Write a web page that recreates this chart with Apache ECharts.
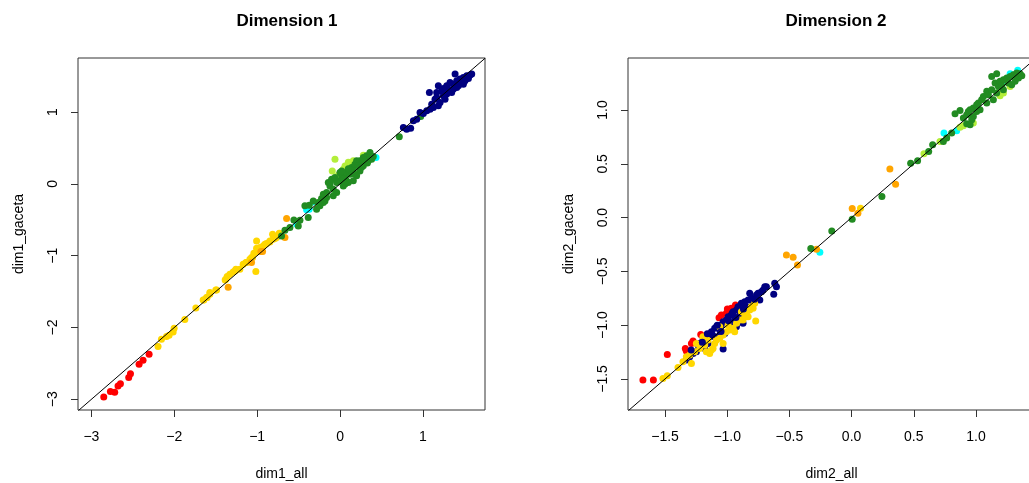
<!DOCTYPE html>
<html><head><meta charset="utf-8">
<script src="https://cdn.jsdelivr.net/npm/echarts@6/dist/echarts.min.js"></script>
<style>html,body{margin:0;padding:0;background:#fff}#c{width:1029px;height:483px}</style>
</head><body><div id="c"></div>
<script>
// ---------- Tick labels ----------
const dim1Ticks = [-3, -2, -1, 0, 1];
const dim2Ticks = [-1.5, -1.0, -0.5, 0.0, 0.5, 1.0];
const dim1Range = {xmin: -3.162, xmax: 1.749, ymin: -3.149, ymax: 1.753};
const dim2Range = {xmin: -1.798, xmax: 1.475, ymin: -1.789, ymax: 1.484};

// ---------- Dimension 1: [dim1_all, dim1_gaceta] ----------
const d1_red = [[-2.851,-2.969],[-2.771,-2.893],[-2.719,-2.903],[-2.679,-2.815],[-2.650,-2.782],[-2.550,-2.698],[-2.529,-2.643],[-2.425,-2.513],[-2.377,-2.457],[-2.304,-2.373]];
const d1_gold = [[-2.196,-2.266],[-2.155,-2.165],[-2.094,-2.127],[-2.063,-2.109],[-2.014,-2.063],[-2.002,-2.011],[-1.873,-1.890],[-1.740,-1.728],[-1.644,-1.617],[-1.604,-1.583],[-1.571,-1.537],[-1.499,-1.477],[-1.386,-1.338],[-1.362,-1.291],[-1.290,-1.226],[-1.257,-1.189],[-1.169,-1.119],[-1.136,-1.096],[-1.088,-1.049],[-1.056,-1.026],[-1.016,-1.221],[-1.040,-0.966],[-1.007,-0.896],[-0.967,-0.924],[-0.928,-0.864],[-0.887,-0.831],[-0.847,-0.794],[-0.814,-0.701],[-0.786,-0.761],[-0.734,-0.687],[-1.007,-0.794],[-1.128,-1.095],[-1.068,-1.026],[-1.007,-0.948],[-0.967,-0.887],[-0.907,-0.840],[-0.847,-0.808],[-0.807,-0.771],[-0.766,-0.747],[-1.209,-1.189],[-1.269,-1.213],[-1.330,-1.259],[-1.378,-1.328],[-1.571,-1.514],[-1.611,-1.584],[-1.652,-1.617],[-1.490,-1.477]];
const d1_orange = [[-0.645,-0.482],[-0.665,-0.747],[-0.935,-0.942],[-0.955,-0.942],[-1.068,-1.096],[-1.350,-1.440]];
const d1_green = [[-0.706,-0.725],[-0.665,-0.646],[-0.605,-0.608],[-0.557,-0.502],[-0.484,-0.506],[-0.504,-0.585],[-0.384,-0.469],[-0.372,-0.297],[-0.283,-0.353],[-0.263,-0.260],[-0.223,-0.204],[-0.182,-0.237],[-0.162,-0.121],[-0.122,-0.028],[-0.082,-0.074],[-0.102,0.065],[-0.041,0.019],[-0.001,0.042],[0.019,0.112],[0.059,0.088],[0.079,0.158],[0.120,0.135],[0.140,0.228],[0.160,0.205],[0.180,0.274],[0.200,0.321],[0.240,0.321],[0.261,0.274],[0.281,0.367],[0.321,0.390],[0.361,0.437],[0.381,0.344],[0.200,0.112],[0.100,0.019],[0.039,-0.028],[-0.041,-0.121],[-0.082,-0.167],[-0.162,-0.190],[-0.202,-0.260],[-0.243,-0.306],[0.160,0.042],[0.240,0.181],[0.281,0.251],[0.341,0.321],[-0.001,0.158],[-0.061,0.088],[-0.142,0.019],[-0.202,-0.144],[0.715,0.655],[0.973,0.939],[-0.323,-0.237],[-0.424,-0.306],[0.039,0.065],[0.140,0.158],[0.220,0.251],[0.301,0.297],[0.361,0.367],[0.079,0.042],[0.180,0.135],[0.281,0.344],[0.401,0.381],[0.020,0.180],[0.100,0.210],[0.260,0.230],[-0.120,0.020],[0.060,0.000],[0.330,0.290]];
const d1_lightgreen = [[-0.061,0.344],[-0.094,0.181],[0.079,0.228],[0.120,0.274],[0.039,0.205],[-0.021,0.121],[0.281,0.400],[-0.263,-0.306],[-0.182,-0.167],[0.160,0.321],[0.100,0.300],[0.060,0.250]];
const d1_cyan = [[-0.404,-0.362],[-0.372,-0.353],[-0.323,-0.251],[-0.524,-0.562],[0.434,0.367]];
const d1_navy = [[0.764,0.785],[0.804,0.762],[0.852,0.776],[0.885,0.878],[0.925,0.901],[0.965,0.994],[1.005,0.980],[1.046,1.018],[1.078,1.273],[1.106,1.110],[1.146,1.180],[1.166,1.273],[1.186,1.366],[1.186,1.087],[1.227,1.296],[1.247,1.227],[1.287,1.366],[1.307,1.319],[1.327,1.412],[1.347,1.273],[1.368,1.389],[1.388,1.529],[1.408,1.436],[1.428,1.366],[1.448,1.459],[1.468,1.412],[1.488,1.482],[1.529,1.505],[1.569,1.515],[1.589,1.529],[1.488,1.389],[1.267,1.180],[1.207,1.134],[1.126,1.064],[1.086,1.041],[1.368,1.320],[1.408,1.343],[1.508,1.436],[1.549,1.468],[1.247,1.329],[1.287,1.250],[1.166,1.203]];

// ---------- Dimension 2: [dim2_all, dim2_gaceta] ----------
const d2_red = [[-1.678,-1.511],[-1.594,-1.511],[-1.482,-1.272],[-1.337,-1.216],[-1.329,-1.241],[-1.288,-1.170],[-1.275,-1.148],[-1.213,-1.086],[-1.066,-0.931],[-1.047,-0.906],[-0.999,-0.850],[-0.967,-0.844],[-0.934,-0.813],[-1.007,-0.890]];
const d2_navy = [[-1.329,-1.325],[-1.302,-1.294],[-1.275,-1.263],[-1.235,-1.185],[-1.221,-1.170],[-1.195,-1.139],[-1.168,-1.123],[-1.141,-1.108],[-1.127,-1.061],[-1.101,-1.030],[-1.087,-1.015],[-1.060,-1.046],[-1.047,-0.999],[-1.033,-0.968],[-1.007,-0.952],[-0.993,-0.921],[-0.967,-0.906],[-0.953,-0.875],[-0.926,-0.859],[-0.913,-0.828],[-0.886,-0.797],[-0.859,-0.782],[-0.832,-0.766],[-0.806,-0.751],[-0.765,-0.720],[-0.752,-0.704],[-0.725,-0.689],[-0.711,-0.673],[-0.698,-0.642],[-0.685,-0.642],[-0.626,-0.713],[-0.618,-0.611],[-0.604,-0.642],[-1.033,-1.222],[-1.060,-1.092],[-1.101,-1.108],[-0.980,-0.999],[-0.940,-0.952],[-0.899,-0.906],[-0.873,-0.983],[-0.846,-0.828],[-0.792,-0.797],[-0.738,-0.766],[-1.181,-1.216],[-1.248,-1.247],[-1.154,-1.170],[-1.020,-1.077],[-0.926,-1.015],[-0.819,-0.704]];
const d2_gold = [[-1.517,-1.496],[-1.482,-1.471],[-1.396,-1.393],[-1.356,-1.340],[-1.329,-1.294],[-1.302,-1.278],[-1.288,-1.356],[-1.262,-1.247],[-1.221,-1.216],[-1.181,-1.185],[-1.168,-1.247],[-1.141,-1.263],[-1.127,-1.232],[-1.101,-1.170],[-1.087,-1.139],[-1.060,-1.123],[-1.033,-1.092],[-1.007,-1.061],[-0.980,-1.046],[-0.953,-1.030],[-0.926,-0.983],[-0.899,-0.952],[-0.873,-0.952],[-0.859,-0.921],[-0.846,-0.890],[-0.819,-0.859],[-0.806,-0.828],[-0.792,-0.844],[-0.779,-0.797],[-0.771,-0.962],[-0.832,-0.921],[-0.940,-1.061],[-1.033,-1.170],[-1.154,-1.139],[-1.195,-1.108],[-1.248,-1.170],[-1.114,-1.216],[-1.060,-1.015],[-0.993,-0.999],[-0.886,-0.875],[0.072,0.087]];
const d2_navyTop = [[-1.290,-1.230],[-1.200,-1.160],[-1.120,-1.090],[-1.050,-1.060],[-0.990,-0.960],[-0.930,-0.930],[-0.870,-0.850],[-0.780,-0.760],[-1.160,-1.080],[-1.080,-1.000],[-0.960,-0.890]];
const d2_orange = [[-0.524,-0.347],[-0.470,-0.369],[-0.435,-0.440],[-0.282,-0.294],[0.005,0.084],[0.051,0.041],[0.308,0.453],[0.354,0.311]];
const d2_green = [[-0.328,-0.288],[-0.159,-0.124],[0.005,-0.015],[0.244,0.196],[0.475,0.506],[0.531,0.528],[0.620,0.615],[0.652,0.677],[0.738,0.708],[0.765,0.739],[0.805,0.786],[0.832,0.966],[0.872,0.997],[0.899,0.925],[0.926,0.956],[0.939,0.987],[0.953,1.003],[0.979,1.018],[1.006,1.049],[1.020,1.065],[1.046,1.096],[1.060,1.127],[1.087,1.174],[1.100,1.143],[1.127,1.189],[1.127,1.313],[1.167,1.338],[1.154,1.251],[1.181,1.220],[1.194,1.267],[1.221,1.282],[1.248,1.298],[1.261,1.251],[1.275,1.313],[1.288,1.236],[1.301,1.329],[1.328,1.344],[1.342,1.298],[1.355,1.338],[1.369,1.319],[1.221,1.189],[1.167,1.158],[1.087,1.065],[1.033,1.003],[0.979,0.941],[0.926,0.872],[1.140,1.096],[1.208,1.226],[1.315,1.267],[1.006,0.987],[0.966,0.910],[0.953,0.863]];
const d2_lightgreen = [[0.582,0.593],[0.711,0.708],[0.872,0.841],[0.899,0.854],[0.979,0.879],[1.194,1.133],[1.221,1.158],[1.275,1.220],[1.181,1.158]];
const d2_cyan = [[-0.255,-0.322],[0.743,0.786],[0.845,0.807],[1.275,1.338],[1.336,1.369],[1.208,1.257]];

// ---------- Chart ----------
const COLORS = {red:'#FF0000', gold:'#FFD700', orange:'#FFA500', green:'#228B22', lightgreen:'#B3EE3A', cyan:'#00FFFF', navy:'#000080'};
const FONT = 'Liberation Sans, Arial, Helvetica, sans-serif';
const minus = s => s.replace('-', '\u2212');

function axis(gridIndex, r, isX, ticks, name, fmt) {
  return {
    type: 'value', gridIndex,
    position: isX ? 'bottom' : 'left',
    min: isX ? r.xmin : r.ymin, max: isX ? r.xmax : r.ymax,
    name, nameLocation: 'middle', nameGap: isX ? 57 : 52,
    nameTextStyle: {fontFamily: FONT, fontSize: 14, color: '#000'},
    axisLine: {show: false, onZero: false},
    splitLine: {show: false},
    axisTick: {show: true, inside: false, length: 7, customValues: ticks, lineStyle: {color: '#333', width: 1}},
    axisLabel: {show: true, customValues: ticks, margin: isX ? 20 : 18, rotate: isX ? 0 : 90,
      fontFamily: FONT, fontSize: 14, color: '#000', formatter: fmt}
  };
}
const fmt1 = v => minus(String(Math.round(v)));
const fmt2 = v => minus(Number(v).toFixed(1));

function pts(data, color, xi) {
  return {type: 'scatter', xAxisIndex: xi, yAxisIndex: xi, data, symbol: 'circle', symbolSize: 7,
    itemStyle: {color, opacity: 1}, silent: true, animation: false, clip: true};
}
function diag(r, xi) {
  const lo = Math.min(r.xmin, r.ymin), hi = Math.max(r.xmax, r.ymax);
  return {type: 'line', xAxisIndex: xi, yAxisIndex: xi, data: [[lo, lo], [hi, hi]], symbol: 'none', clip: true,
    lineStyle: {color: '#000', width: 1}, silent: true, animation: false, z: 3};
}

const chart = echarts.init(document.getElementById('c'), null, {renderer: 'canvas'});
chart.setOption({
  animation: false,
  backgroundColor: '#fff',
  title: [
    {text: 'Dimension 1', left: 282, top: 8, textAlign: 'center', textStyle: {fontFamily: FONT, fontSize: 17, fontWeight: 'bold', color: '#000'}},
    {text: 'Dimension 2', left: 831, top: 8, textAlign: 'center', textStyle: {fontFamily: FONT, fontSize: 17, fontWeight: 'bold', color: '#000'}}
  ],
  grid: [
    {left: 78, top: 58, width: 407, height: 352, show: true, borderColor: '#333', borderWidth: 1, backgroundColor: 'transparent', containLabel: false, outerBoundsMode: 'none'},
    {left: 628, top: 58, width: 407, height: 352, show: true, borderColor: '#333', borderWidth: 1, backgroundColor: 'transparent', containLabel: false, outerBoundsMode: 'none'}
  ],
  xAxis: [axis(0, dim1Range, true, dim1Ticks, 'dim1_all', fmt1), axis(1, dim2Range, true, dim2Ticks, 'dim2_all', fmt2)],
  yAxis: [axis(0, dim1Range, false, dim1Ticks, 'dim1_gaceta', fmt1), axis(1, dim2Range, false, dim2Ticks, 'dim2_gaceta', fmt2)],
  series: [
    pts(d1_red, COLORS.red, 0), pts(d1_cyan, COLORS.cyan, 0), pts(d1_lightgreen, COLORS.lightgreen, 0),
    pts(d1_gold, COLORS.gold, 0), pts(d1_orange, COLORS.orange, 0), pts(d1_green, COLORS.green, 0), pts(d1_navy, COLORS.navy, 0),
    diag(dim1Range, 0),
    pts(d2_red, COLORS.red, 1), pts(d2_cyan, COLORS.cyan, 1), pts(d2_lightgreen, COLORS.lightgreen, 1),
    pts(d2_navy, COLORS.navy, 1), pts(d2_gold, COLORS.gold, 1), pts(d2_navyTop, COLORS.navy, 1), pts(d2_orange, COLORS.orange, 1), pts(d2_green, COLORS.green, 1),
    diag(dim2Range, 1)
  ]
});
</script></body></html>
